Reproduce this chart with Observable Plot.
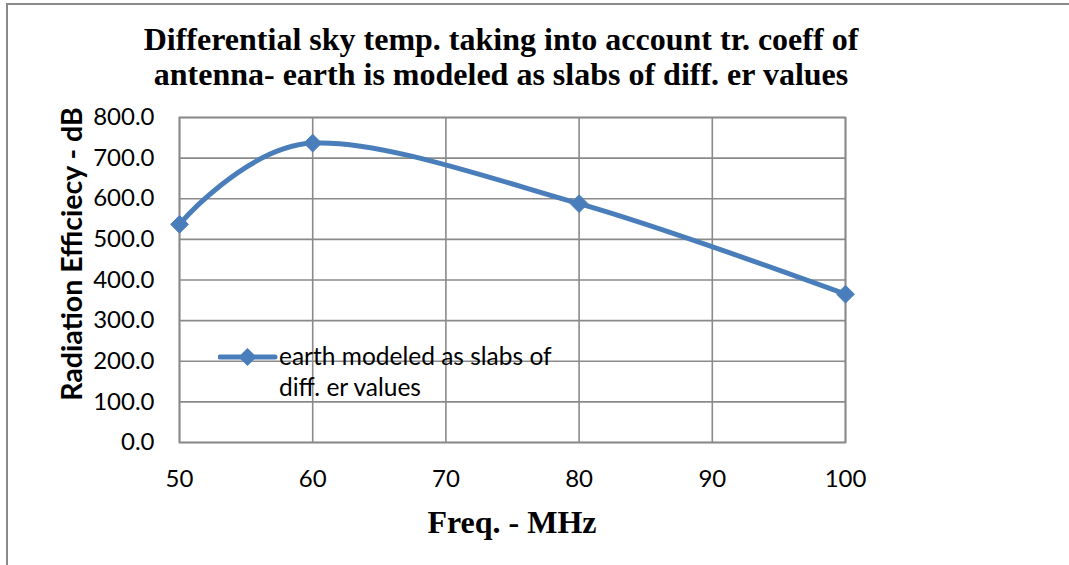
<!DOCTYPE html>
<html>
<head>
<meta charset="utf-8">
<script src="https://cdn.jsdelivr.net/npm/d3@7"></script>
<script src="https://cdn.jsdelivr.net/npm/@observablehq/plot@0.6"></script>
<style>
  html, body { margin: 0; padding: 0; background: #fff; overflow: hidden; }
  #wrap { position: relative; width: 1069px; height: 565px; overflow: hidden; }
  .bline { position: absolute; background: #8a8a8a; }
  #chart { position: absolute; left: 0; top: 0; }
  .title { position: absolute; left: 501px; transform: translateX(-50%);
           font-family: "Liberation Serif", "Times New Roman", serif; font-weight: bold;
           font-size: 32px; white-space: nowrap; color: #000; line-height: 35px; text-align: center; }
  #ylabel { position: absolute; left: 71px; top: 254px; transform: translate(-50%,-50%) rotate(-90deg);
            font-family: Lato, "Open Sans", sans-serif; font-weight: bold; font-size: 28.5px; white-space: nowrap; color: #000; }
  #xlabel { position: absolute; left: 512px; top: 522px; transform: translate(-50%,-50%);
            font-family: "Liberation Serif", "Times New Roman", serif; font-weight: bold; font-size: 32px; white-space: nowrap; }
  #legend { position: absolute; left: 218px; top: 340px; font-family: Lato, "Open Sans", sans-serif; font-size: 24.5px; color: #000; }
  #legend svg { position: absolute; left: 0; top: 6px; }
  #legend .lt { position: absolute; left: 61px; top: 0; line-height: 31px; white-space: nowrap; }
</style>
</head>
<body>
<div id="wrap">
  <div class="bline" style="left:6px; top:3px; width:1063px; height:2px;"></div>
  <div class="bline" style="left:6px; top:3px; width:2px; height:562px;"></div>
  <div id="chart"></div>
  <div class="title" id="title" style="top:22px;"></div>
  <div id="ylabel"></div>
  <div id="xlabel"></div>
  <div id="legend"></div>
</div>
<script>
// ---- data ----
const titleLines = ["Differential sky temp. taking into account tr. coeff of", "antenna- earth is modeled as slabs of diff. er values"];
const xLabel = "Freq. - MHz";
const yLabel = "Radiation Efficiecy - dB";
const seriesName = ["earth modeled as slabs of", "diff. er values"];
const freq = [50, 60, 80, 100];
const efficiency = [537, 737, 588, 365];
const xTicks = [50, 60, 70, 80, 90, 100];
const yTicks = [0, 100, 200, 300, 400, 500, 600, 700, 800];

const lineColor = "#4a7ebb";
const gridColor = "#8a8a8a";

const data = freq.map((f, i) => ({freq: f, eff: efficiency[i]}));

const chart = Plot.plot({
  width: 1069,
  height: 565,
  marginLeft: 179,
  marginRight: 224,
  marginTop: 117,
  marginBottom: 123,
  style: {fontFamily: "Lato, 'Open Sans', sans-serif", fontSize: "24px", color: "#000", background: "transparent"},
  x: {domain: [50, 100], ticks: xTicks, label: null, tickSize: 0, tickPadding: 27, tickFormat: d => String(d)},
  y: {domain: [0, 800], ticks: yTicks, label: null, tickSize: 0, tickPadding: 25, tickFormat: d => d.toFixed(1)},
  marks: [
    Plot.gridX(xTicks, {stroke: gridColor, strokeOpacity: 1, strokeWidth: 1.6}),
    Plot.gridY(yTicks, {stroke: gridColor, strokeOpacity: 1, strokeWidth: 1.6}),
    Plot.frame({stroke: gridColor, strokeWidth: 1.8}),
    Plot.line(data, {x: "freq", y: "eff", stroke: lineColor, strokeWidth: 5, curve: "cardinal"}),
    Plot.dot(data, {x: "freq", y: "eff", symbol: "diamond2", r: 8, fill: lineColor, stroke: lineColor, strokeWidth: 1})
  ]
});
document.getElementById("chart").appendChild(chart);

document.getElementById("title").innerHTML = titleLines.join("<br>");
document.getElementById("ylabel").textContent = yLabel;
document.getElementById("xlabel").textContent = xLabel;

const leg = document.getElementById("legend");
leg.innerHTML = `<svg width="60" height="22" viewBox="0 0 60 22">
  <line x1="2" y1="11" x2="57" y2="11" stroke="${lineColor}" stroke-width="5" stroke-linecap="round"/>
  <path d="M29.5,2 L38.5,11 L29.5,20 L20.5,11 Z" fill="${lineColor}"/>
</svg><div class="lt">${seriesName.join("<br>")}</div>`;
</script>
</body>
</html>
